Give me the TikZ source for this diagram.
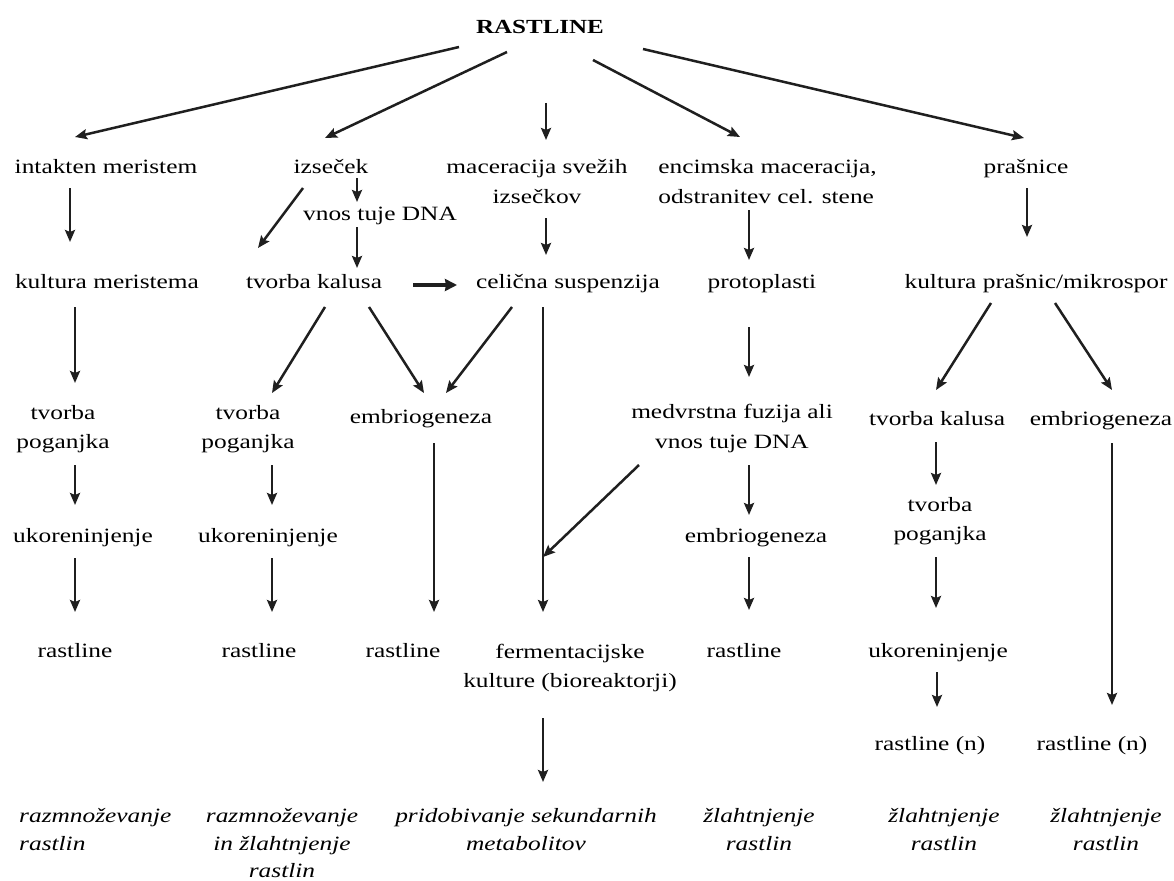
\documentclass[tikz,border=0pt]{standalone}
\usepackage{fontspec}
\setmainfont{Liberation Serif}[FakeStretch=1.25]
\usetikzlibrary{arrows.meta,calc}
\begin{document}
\begin{tikzpicture}[x=1pt,y=-1pt,
  lbl/.style={inner sep=0pt, align=center, text=black, font=\fontsize{20.3}{29.5}\selectfont},
  res/.style={inner sep=0pt, align=center, text=black, font=\fontsize{20.3}{27.5}\selectfont\itshape},
  arr/.style={draw=black!88, line width=2.5pt, -{Stealth[length=12pt,width=10pt,inset=2pt]}},
  thickarr/.style={draw=black!88, line width=4pt, -{Stealth[length=12pt,width=12pt,inset=1pt]}}]
\fill[white] (0,0) rectangle (1174,880);
\useasboundingbox (0,0) rectangle (1174,880);

% nodes
\node[lbl, font=\fontsize{20}{29.5}\selectfont\bfseries] (R) at (540,28) {\strut RASTLINE};
\node[lbl] (im)  at (106,168) {\strut intakten meristem};
\node[lbl] (iz)  at (331,168) {\strut izseček};
\node[lbl] (mac) at (537,182.5) {\strut maceracija svežih\\\strut izsečkov};
\node[lbl, align=left] (enc) at (767.5,182.5) {\strut encimska maceracija,\\\strut odstranitev cel. stene};
\node[lbl] (pr)  at (1026,168) {\strut prašnice};
\node[lbl] (vn)  at (380,215) {\strut vnos tuje DNA};
\node[lbl] (km)  at (107,283) {\strut kultura meristema};
\node[lbl] (tk)  at (314,283) {\strut tvorba kalusa};
\node[lbl] (cs)  at (568,283) {\strut celična suspenzija};
\node[lbl] (pp)  at (762,283) {\strut protoplasti};
\node[lbl] (kp)  at (1036,283) {\strut kultura prašnic/mikrospor};
\node[lbl] (tp1) at (63,428) {\strut tvorba\\\strut poganjka};
\node[lbl] (tp2) at (248,428) {\strut tvorba\\\strut poganjka};
\node[lbl] (emb1) at (421,418) {\strut embriogeneza};
\node[lbl] (med) at (732,427.5) {\strut medvrstna fuzija ali\\\strut vnos tuje DNA};
\node[lbl] (tk2) at (937,420) {\strut tvorba kalusa};
\node[lbl] (emb2) at (1101,420) {\strut embriogeneza};
\node[lbl] (uk1) at (83,537) {\strut ukoreninjenje};
\node[lbl] (uk2) at (268,537) {\strut ukoreninjenje};
\node[lbl] (emb3) at (756,537) {\strut embriogeneza};
\node[lbl] (tp3) at (940,520) {\strut tvorba\\\strut poganjka};
\node[lbl] (r1) at (75,652) {\strut rastline};
\node[lbl] (r2) at (259,652) {\strut rastline};
\node[lbl] (r3) at (403,652) {\strut rastline};
\node[lbl] (ferm) at (570,667) {\strut fermentacijske\\\strut kulture (bioreaktorji)};
\node[lbl] (r4) at (744,652) {\strut rastline};
\node[lbl] (uk3) at (938,652) {\strut ukoreninjenje};
\node[lbl] (rn1) at (930,745) {\strut rastline (n)};
\node[lbl] (rn2) at (1092,745) {\strut rastline (n)};
\node[res, align=left, anchor=west] (o1) at (19,831) {\strut razmnoževanje\\\strut rastlin};
\node[res] (o2) at (282,844.5) {\strut razmnoževanje\\\strut in žlahtnjenje\\\strut rastlin};
\node[res] (o3) at (526,831) {\strut pridobivanje sekundarnih\\\strut metabolitov};
\node[res] (o4) at (759,831) {\strut žlahtnjenje\\\strut rastlin};
\node[res] (o5) at (944,831) {\strut žlahtnjenje\\\strut rastlin};
\node[res] (o6) at (1106,831) {\strut žlahtnjenje\\\strut rastlin};

% connectors
\draw[arr] ($(R)+(-81,19)$) -- ($(im)+(-31,-31)$);
\draw[arr] ($(R)+(-33,24)$) -- ($(iz)+(-6,-30)$);
\draw[arr] ($(R)+(6,75)$) -- ($(mac)+(9,-42.5)$);
\draw[arr] ($(R)+(53,32)$) -- ($(enc)+(-27.5,-45.5)$);
\draw[arr] ($(R)+(103,21)$) -- ($(pr)+(-2,-30)$);

\draw[arr] ($(im)+(-36,20)$) -- ($(km)+(-37,-41)$);
\draw[arr] ($(iz)+(26,10)$) -- ($(vn)+(-23,-13)$);
\draw[arr] ($(iz)+(-28,20)$) -- ($(tk)+(-56,-35)$);
\draw[arr] ($(vn)+(-23,12)$) -- ($(tk)+(43,-15)$);
\draw[arr] ($(mac)+(9,35.5)$) -- ($(cs)+(-22,-28)$);
\draw[thickarr] ($(tk)+(99,2)$) -- ($(cs)+(-111,2)$);
\draw[arr] ($(enc)+(-18.5,27.5)$) -- ($(pp)+(-13,-23)$);
\draw[arr] ($(pr)+(1,20)$) -- ($(kp)+(-9,-46)$);

\draw[arr] ($(km)+(-32,24)$) -- ($(tp1)+(12,-45)$);
\draw[arr] ($(tk)+(11,24)$) -- ($(tp2)+(24,-35)$);
\draw[arr] ($(tk)+(55,24)$) -- ($(emb1)+(3,-25)$);
\draw[arr] ($(cs)+(-56,24)$) -- ($(emb1)+(25,-25)$);
\draw[arr] ($(cs)+(-25,24)$) -- ($(ferm)+(-27,-55)$);
\draw[arr] ($(pp)+(-13,44)$) -- ($(med)+(17,-50.5)$);
\draw[arr] ($(kp)+(-45,20)$) -- ($(tk2)+(-1,-30)$);
\draw[arr] ($(kp)+(19,20)$) -- ($(emb2)+(11,-30)$);

\draw[arr] ($(tp1)+(12,37)$) -- ($(uk1)+(-8,-32)$);
\draw[arr] ($(tp2)+(24,37)$) -- ($(uk2)+(4,-32)$);
\draw[arr] ($(emb1)+(13,25)$) -- ($(r3)+(31,-40)$);
\draw[arr] ($(med)+(-93,37.5)$) -- ($(ferm)+(-27,-110)$);
\draw[arr] ($(med)+(17,37.5)$) -- ($(emb3)+(-7,-22)$);
\draw[arr] ($(tk2)+(-1,22)$) -- ($(tp3)+(-4,-35)$);
\draw[arr] ($(emb2)+(11,23)$) -- ($(rn2)+(20,-40)$);

\draw[arr] ($(uk1)+(-8,21)$) -- ($(r1)+(0,-40)$);
\draw[arr] ($(uk2)+(4,21)$) -- ($(r2)+(13,-40)$);
\draw[arr] ($(emb3)+(-7,20)$) -- ($(r4)+(5,-42)$);
\draw[arr] ($(tp3)+(-4,37)$) -- ($(uk3)+(-2,-44)$);
\draw[arr] ($(uk3)+(-1,20)$) -- ($(rn1)+(7,-38)$);
\draw[arr] ($(ferm)+(-27,51)$) -- ($(o3)+(17,-49)$);
\end{tikzpicture}
\end{document}
